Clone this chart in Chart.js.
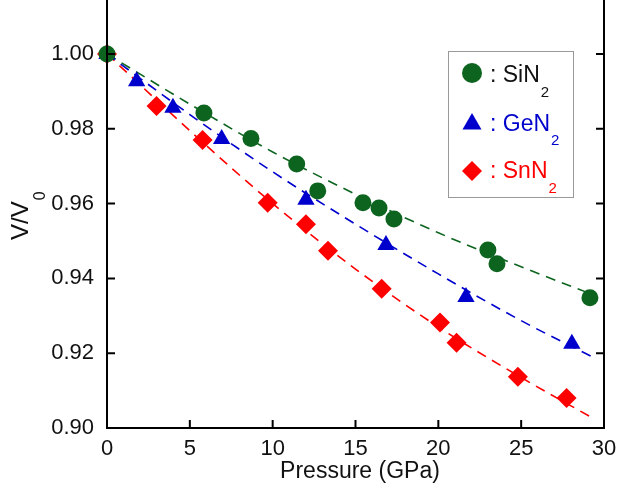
<!DOCTYPE html>
<html>
<head>
<meta charset="utf-8">
<script src="https://cdn.jsdelivr.net/npm/chart.js@4.4.1/dist/chart.umd.min.js"></script>
<style>
html,body{margin:0;padding:0;background:#fff;}
#wrap{position:relative;width:618px;height:489px;}
</style>
</head>
<body>
<div id="wrap"><canvas id="c" width="618" height="489"></canvas></div>
<script>
// ---- data ----
const seriesNames = ['SiN', 'GeN', 'SnN'];

const siPressure = [0, 5.85, 8.69, 11.45, 12.72, 15.45, 16.42, 17.32, 22.99, 23.54, 29.15];
const siVolume   = [1.000, 0.9842, 0.9774, 0.9706, 0.9634, 0.9602, 0.9588, 0.9559, 0.9476, 0.9439, 0.9348];

const gePressure = [0, 1.79, 3.98, 6.92, 12.01, 16.84, 21.67, 28.06];
const geVolume   = [1.000, 0.9927, 0.9856, 0.9773, 0.9610, 0.9489, 0.9350, 0.9225];

const snPressure = [0, 2.99, 5.77, 9.70, 12.01, 13.34, 16.58, 20.10, 21.10, 24.80, 27.74];
const snVolume   = [1.000, 0.9861, 0.9770, 0.9602, 0.9545, 0.9474, 0.9372, 0.9282, 0.9228, 0.9137, 0.9080];

// dashed fit curves, read at points along each curve
const siFitPressure = [0, 5, 10, 15, 20, 25, 29.3];
const siFitVolume   = [1.000, 0.9866, 0.9738, 0.9625, 0.9522, 0.9431, 0.9357];
const geFitPressure = [0, 5, 10, 15, 20, 25, 29.3];
const geFitVolume   = [1.000, 0.9838, 0.9685, 0.9545, 0.9412, 0.9287, 0.9190];
const snFitPressure = [0, 5, 10, 15, 20, 25, 29.3];
const snFitVolume   = [1.000, 0.9795, 0.9600, 0.9425, 0.9270, 0.9135, 0.9027];

const xTicks = [0, 5, 10, 15, 20, 25, 30];
const yTicks = [0.90, 0.92, 0.94, 0.96, 0.98, 1.00];
// --------------------------------------

const GREEN = 'rgb(12,100,30)';
const BLUE = 'rgb(0,0,205)';
const RED = 'rgb(255,0,0)';
const FONT = '"Liberation Sans", Arial, sans-serif';

function pts(xs, ys){ return xs.map((x,i)=>({x:x, y:ys[i]})); }

function pointSet(label, xs, ys, style, color, radius, order){
  return {label, data: pts(xs, ys), showLine:false, pointStyle:style,
    pointRadius:radius, pointHoverRadius:radius, backgroundColor:color,
    borderColor:color, borderWidth:0, clip:false, order};
}
function lineSet(label, xs, ys, color, order){
  return {label, data: pts(xs, ys), showLine:true, pointRadius:0, pointHoverRadius:0,
    borderColor:color, borderWidth:1.6, borderDash:[10,7], cubicInterpolationMode:'monotone',
    fill:false, clip:false, order};
}

const frame = {
  id:'frame',
  afterDatasetsDraw(chart){
    const ctx = chart.ctx, a = chart.chartArea;
    const xs = chart.scales.x, ys = chart.scales.y;
    ctx.save();
    ctx.strokeStyle = '#000';
    ctx.lineWidth = 2;
    ctx.beginPath();
    ctx.moveTo(a.left, a.top); ctx.lineTo(a.left, a.bottom);
    ctx.lineTo(a.right, a.bottom); ctx.lineTo(a.right, a.top);
    ctx.stroke();
    const tl = 8;
    ctx.beginPath();
    xTicks.forEach(v=>{ const px = xs.getPixelForValue(v); ctx.moveTo(px, a.bottom); ctx.lineTo(px, a.bottom - tl); });
    yTicks.forEach(v=>{ const py = ys.getPixelForValue(v);
      ctx.moveTo(a.left, py); ctx.lineTo(a.left + tl, py);
      ctx.moveTo(a.right, py); ctx.lineTo(a.right - tl, py); });
    ctx.stroke();

    // axis titles
    ctx.fillStyle = '#111';
    ctx.font = '23px ' + FONT;
    ctx.textAlign = 'center';
    ctx.textBaseline = 'alphabetic';
    ctx.fillText('Pressure (GPa)', 360, 478);

    ctx.save();
    ctx.translate(28, 240);
    ctx.rotate(-Math.PI/2);
    ctx.textAlign = 'left';
    ctx.font = '24px ' + FONT;
    ctx.fillText('V/V', 0, 0);
    const w = ctx.measureText('V/V').width;
    ctx.font = '16px ' + FONT;
    ctx.fillText('0', w + 1, 17);
    ctx.restore();

    // legend box
    ctx.lineWidth = 1;
    ctx.strokeStyle = '#999';
    ctx.strokeRect(448.5, 51.5, 125, 146);
    const entries = [
      {style:'circle', color:GREEN, text:'#111', y:73, base:82, subBase:97, name:seriesNames[0]},
      {style:'triangle', color:BLUE, text:BLUE, y:124, base:131, subBase:145, name:seriesNames[1]},
      {style:'rectRot', color:RED, text:RED, y:171, base:178, subBase:193, name:seriesNames[2]}
    ];
    entries.forEach(e=>{
      ctx.fillStyle = e.color;
      Chart.helpers.drawPoint(ctx, {pointStyle:e.style, radius:e.style==='triangle'?11:10, borderWidth:0}, 472, e.y);
      ctx.fillStyle = e.text;
      ctx.textAlign = 'left';
      ctx.font = '23px ' + FONT;
      const t = ': ' + e.name;
      ctx.fillText(t, 490, e.base);
      const tw = ctx.measureText(t).width;
      ctx.font = '15px ' + FONT;
      ctx.fillText('2', 490 + tw + 1, e.subBase);
    });
    ctx.restore();
  }
};

new Chart(document.getElementById('c'), {
  type:'scatter',
  data:{datasets:[
    pointSet('SiN2', siPressure, siVolume, 'circle', GREEN, 8.5, 0),
    pointSet('GeN2', gePressure, geVolume, 'triangle', BLUE, 10, 1),
    pointSet('SnN2', snPressure, snVolume, 'rectRot', RED, 10, 2),
    lineSet('SiN2 fit', siFitPressure, siFitVolume, GREEN, 3),
    lineSet('GeN2 fit', geFitPressure, geFitVolume, BLUE, 4),
    lineSet('SnN2 fit', snFitPressure, snFitVolume, RED, 5)
  ]},
  options:{
    responsive:false, animation:false, devicePixelRatio:1,
    layout:{autoPadding:false, padding:{left:0, right:14, top:0, bottom:0}},
    plugins:{legend:{display:false}, tooltip:{enabled:false}},
    events:[],
    scales:{
      x:{type:'linear', min:0, max:30,
        grid:{display:false, drawTicks:false}, border:{display:false},
        afterBuildTicks(s){ s.ticks = xTicks.map(v=>({value:v})); },
        afterFit(s){ s.height = 61; s.paddingLeft = 0; s.paddingRight = 0; },
        ticks:{color:'#111', padding:8, font:{family:FONT, size:22}, maxRotation:0, autoSkip:false,
          callback:v=>String(v)}},
      y:{type:'linear', min:0.9, max:0.9 + 0.1*428/374,
        grid:{display:false, drawTicks:false}, border:{display:false},
        afterBuildTicks(s){ s.ticks = yTicks.map(v=>({value:v})); },
        afterFit(s){ s.width = 107; s.paddingTop = 0; s.paddingBottom = 0; },
        ticks:{color:'#111', padding:13, font:{family:FONT, size:22}, autoSkip:false,
          callback:v=>Number(v).toFixed(2)}}
    }
  },
  plugins:[frame]
});
</script>
</body>
</html>
